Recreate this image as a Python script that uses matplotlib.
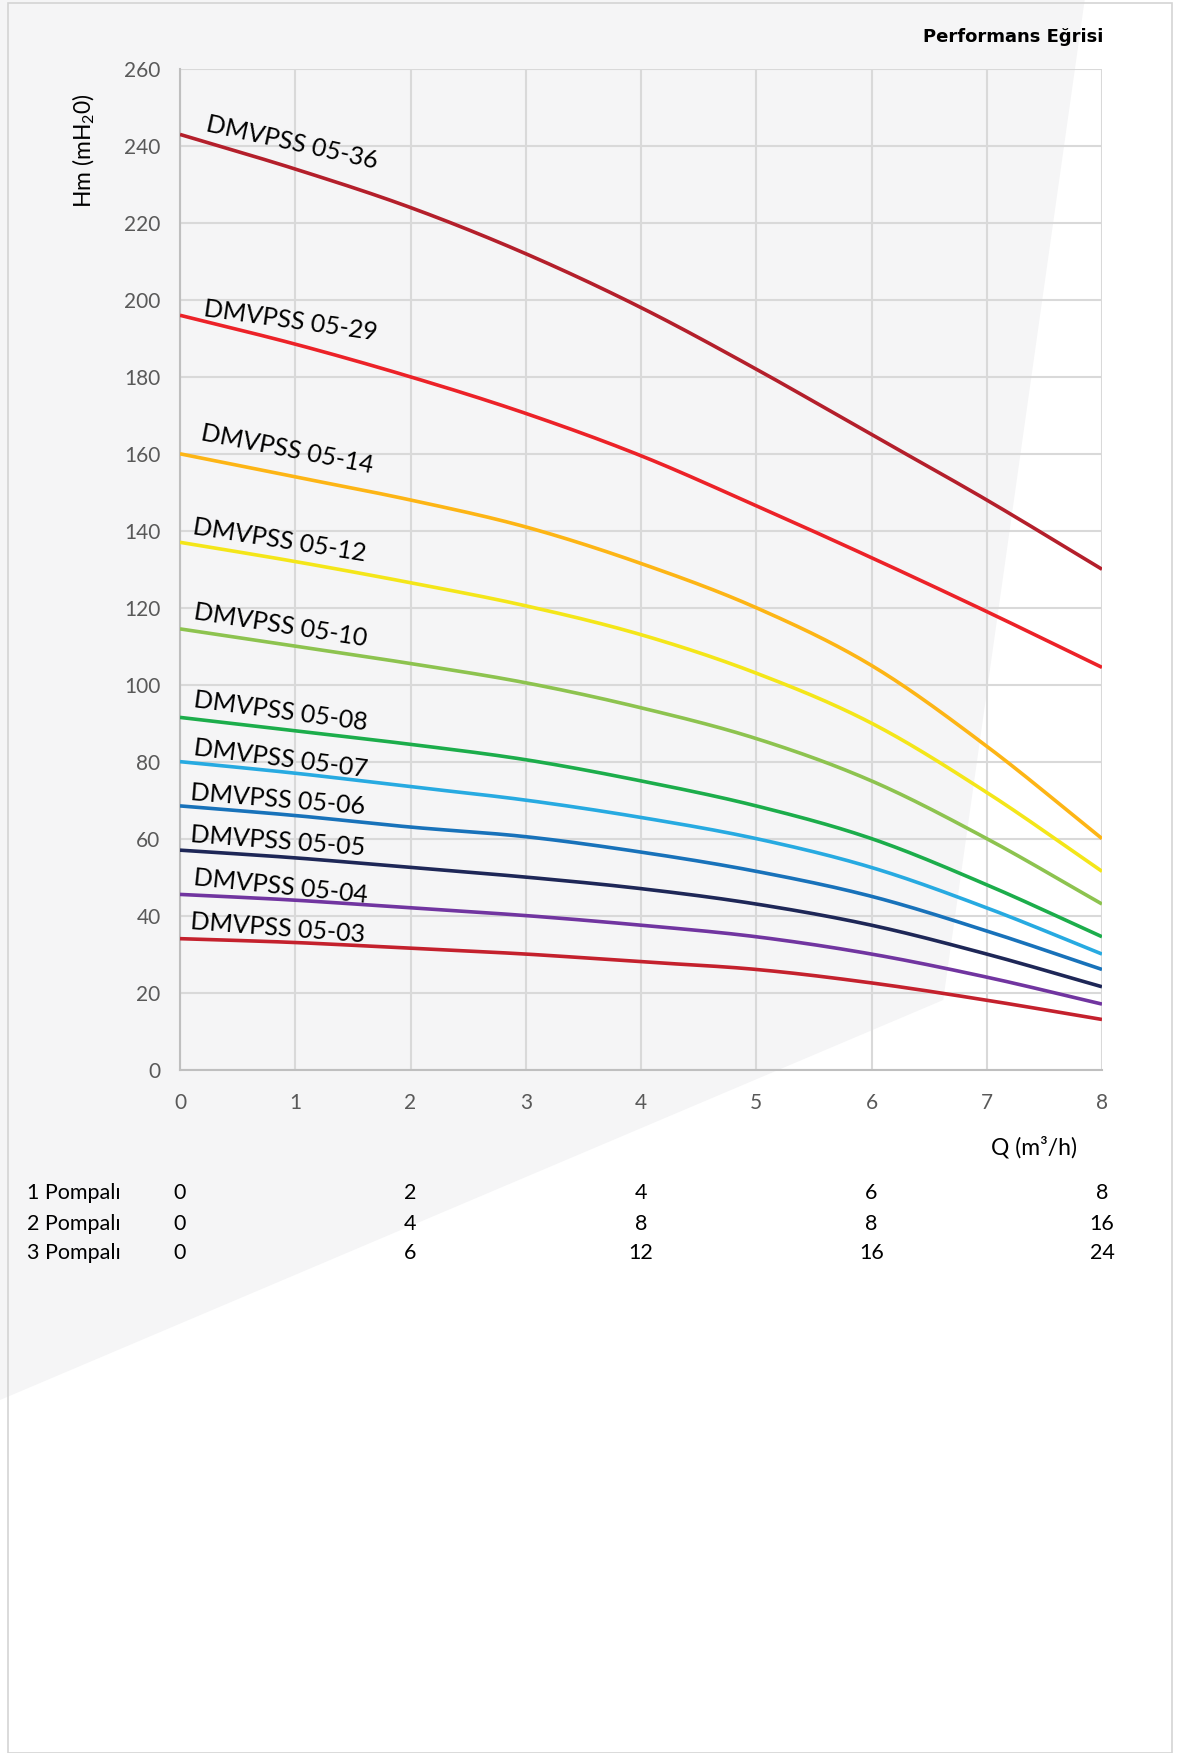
import numpy as np
import matplotlib
matplotlib.use("Agg")
import matplotlib.pyplot as plt
from matplotlib.patches import Polygon, Rectangle
from matplotlib.transforms import blended_transform_factory

plt.rcParams['font.family'] = ['Lato', 'DejaVu Sans']
plt.rcParams['mathtext.fontset'] = 'custom'
plt.rcParams['mathtext.rm'] = 'Lato'
plt.rcParams['mathtext.it'] = 'Lato'

# ---- data ----
q = [0, 1, 2, 3, 4, 5, 6, 7, 8]
h_05_36 = [243, 234, 224, 212, 198, 182, 165, 148, 130]
h_05_29 = [196, 188.5, 180, 170.5, 159.5, 146.5, 133, 119, 104.5]
h_05_14 = [160, 154, 148, 141, 131.5, 120, 105, 84, 60]
h_05_12 = [137, 132, 126.5, 120.5, 113, 103, 90, 72, 51.5]
h_05_10 = [114.5, 110, 105.5, 100.5, 94, 86, 75, 60, 43]
h_05_08 = [91.5, 88, 84.5, 80.5, 75, 68.5, 60, 48, 34.5]
h_05_07 = [80, 77, 73.5, 70, 65.5, 60, 52.5, 42, 30]
h_05_06 = [68.5, 66, 63, 60.5, 56.5, 51.5, 45, 36, 26]
h_05_05 = [57, 55, 52.5, 50, 47, 43, 37.5, 30, 21.5]
h_05_04 = [45.5, 44, 42, 40, 37.5, 34.5, 30, 24, 17]
h_05_03 = [34, 33, 31.5, 30, 28, 26, 22.5, 18, 13]

models = ["DMVPSS 05-36", "DMVPSS 05-29", "DMVPSS 05-14", "DMVPSS 05-12",
          "DMVPSS 05-10", "DMVPSS 05-08", "DMVPSS 05-07", "DMVPSS 05-06",
          "DMVPSS 05-05", "DMVPSS 05-04", "DMVPSS 05-03"]
series = [h_05_36, h_05_29, h_05_14, h_05_12, h_05_10, h_05_08, h_05_07,
          h_05_06, h_05_05, h_05_04, h_05_03]

table_rows = ["1 Pompalı", "2 Pompalı", "3 Pompalı"]
pompa_1 = [0, 2, 4, 6, 8]
pompa_2 = [0, 4, 8, 8, 16]
pompa_3 = [0, 6, 12, 16, 24]
table_cols_q = [0, 2, 4, 6, 8]

# ---- styles ----
colors = ["#B41F2B", "#EC2228", "#FDB515", "#F4E619", "#8DC34F", "#1CAD4B",
          "#27AAE1", "#1872BA", "#1E2757", "#7135A0", "#C4212D"]
label_pos = [(0.22, 243.8, 12.5), (0.20, 195.8, 8.0), (0.17, 163.6, 11.0),
             (0.10, 139.2, 9.0), (0.11, 117.2, 9.0), (0.11, 94.2, 7.7),
             (0.11, 81.8, 7.3), (0.09, 70.0, 4.7), (0.09, 59.0, 4.4),
             (0.11, 48.0, 5.9), (0.09, 36.6, 4.4)]


def smooth(x, y, n=40):
    x = np.asarray(x, float)
    y = np.asarray(y, float)
    px = np.concatenate([[2 * x[0] - x[1]], x, [2 * x[-1] - x[-2]]])
    py = np.concatenate([[2 * y[0] - y[1]], y, [2 * y[-1] - y[-2]]])
    xs, ys = [], []
    t = np.linspace(0, 1, n, endpoint=False)
    for i in range(1, len(px) - 2):
        p0, p1, p2, p3 = [np.array([px[j], py[j]]) for j in (i - 1, i, i + 1, i + 2)]
        tt = t[:, None]
        pts = 0.5 * ((2 * p1) + (-p0 + p2) * tt + (2 * p0 - 5 * p1 + 4 * p2 - p3) * tt ** 2
                     + (-p0 + 3 * p1 - 3 * p2 + p3) * tt ** 3)
        xs.append(pts[:, 0])
        ys.append(pts[:, 1])
    xs.append([x[-1]])
    ys.append([y[-1]])
    return np.concatenate(xs), np.concatenate(ys)


W, H = 1179, 1753
fig = plt.figure(figsize=(W / 100, H / 100), dpi=100)
fig.patch.set_facecolor("white")

# faint background watermark area
bg = Polygon([(0, 1), (0.92, 1), (0.80, 1 - 1000 / H), (0, 1 - 1400 / H)],
             closed=True, transform=fig.transFigure, facecolor="#f5f5f6",
             edgecolor="none", zorder=-10)
fig.patches.append(bg)
frame = Rectangle((8 / W, 0), (1172 - 8) / W, 1 - 3 / H, transform=fig.transFigure,
                  facecolor="none", edgecolor="#d4d4d4", lw=1.2, zorder=-5)
fig.patches.append(frame)

left, right = 180 / W, 1102 / W
top, bottom = 1 - 69 / H, 1 - 1069.5 / H
ax = fig.add_axes([left, bottom, right - left, top - bottom])
ax.set_facecolor("none")
ax.set_xlim(0, 8)
ax.set_ylim(0, 260)
ax.set_xticks(range(0, 9))
ax.set_yticks(range(0, 261, 20))
ax.grid(True, color="#d9d9d9", lw=1.5)
ax.set_axisbelow(True)
for s in ["top", "right"]:
    ax.spines[s].set_visible(False)
for s in ["left", "bottom"]:
    ax.spines[s].set_color("#bfbfbf")
    ax.spines[s].set_linewidth(1.5)
ax.tick_params(length=0, labelsize=15, labelcolor="#595959")
ax.tick_params(axis="y", pad=14)
ax.tick_params(axis="x", pad=17)

for h, c, name, (lx, ly, rot) in zip(series, colors, models, label_pos):
    xs, ys = smooth(q, h)
    ax.plot(xs, ys, color=c, lw=2.6, solid_capstyle="butt", zorder=3)
    ax.text(lx, ly, name, rotation=-rot, rotation_mode="anchor", ha="left",
            va="baseline", fontsize=18, color="black", zorder=4)

fig.text(1103 / W, 1 - 37 / H, "Performans Eğrisi", ha="right", va="center",
         fontsize=13, fontweight="bold", color="black", family="DejaVu Sans")
fig.text(84 / W, 1 - 151 / H, "Hm (mH$_2$0)", rotation=90, ha="center",
         va="center", fontsize=16.5, color="black")
fig.text(1034 / W, 1 - 1147 / H, "Q (m³/h)", ha="center", va="center",
         fontsize=16.5, color="black")

trans = blended_transform_factory(ax.transData, fig.transFigure)
row_y = [1193, 1224, 1253]
for name, vals, yy in zip(table_rows, [pompa_1, pompa_2, pompa_3], row_y):
    fig.text(27 / W, 1 - yy / H, name, ha="left", va="center", fontsize=15.5,
             color="black")
    for xq, v in zip(table_cols_q, vals):
        ax.text(xq, 1 - yy / H, str(v), transform=trans, ha="center",
                va="center", fontsize=15.5, color="black", clip_on=False)

fig.savefig("out.png", dpi=100, facecolor=fig.get_facecolor())
